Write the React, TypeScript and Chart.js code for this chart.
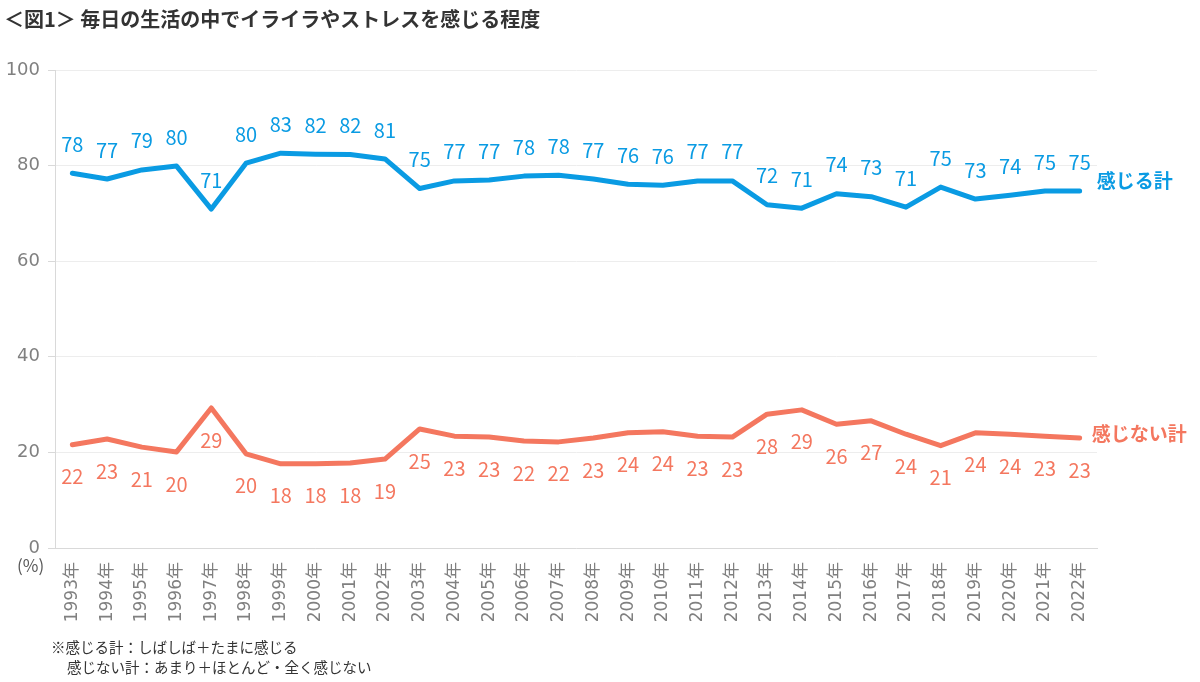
import React, { useEffect, useRef } from "react";
import { Chart, registerables } from "chart.js";

Chart.register(...registerables);

const years = [
  "1993年", "1994年", "1995年", "1996年", "1997年", "1998年", "1999年", "2000年", "2001年", "2002年",
  "2003年", "2004年", "2005年", "2006年", "2007年", "2008年", "2009年", "2010年", "2011年", "2012年",
  "2013年", "2014年", "2015年", "2016年", "2017年", "2018年", "2019年", "2020年", "2021年", "2022年",
];

const feelValues = [
  78.4, 77.2, 79.1, 79.9, 70.9, 80.5, 82.6, 82.4, 82.3, 81.4,
  75.2, 76.8, 77.0, 77.8, 78.0, 77.2, 76.1, 75.9, 76.8, 76.8,
  71.8, 71.1, 74.1, 73.5, 71.3, 75.5, 73.0, 73.8, 74.7, 74.7,
];
const feelLabels = [
  "78", "77", "79", "80", "71", "80", "83", "82", "82", "81",
  "75", "77", "77", "78", "78", "77", "76", "76", "77", "77",
  "72", "71", "74", "73", "71", "75", "73", "74", "75", "75",
];

const notFeelValues = [
  21.6, 22.8, 21.1, 20.1, 29.3, 19.7, 17.6, 17.6, 17.8, 18.6,
  24.9, 23.4, 23.2, 22.4, 22.2, 23.0, 24.1, 24.3, 23.4, 23.2,
  28.0, 28.9, 25.9, 26.6, 23.8, 21.4, 24.1, 23.8, 23.4, 23.0,
];
const notFeelLabels = [
  "22", "23", "21", "20", "29", "20", "18", "18", "18", "19",
  "25", "23", "23", "22", "22", "23", "24", "24", "23", "23",
  "28", "29", "26", "27", "24", "21", "24", "24", "23", "23",
];

const yTicks = [0, 20, 40, 60, 80, 100];

const seriesNames = ["感じる計", "感じない計"];
const titleText = "＜図1＞ 毎日の生活の中でイライラやストレスを感じる程度";
const noteLines = ["※感じる計：しばしば＋たまに感じる", "感じない計：あまり＋ほとんど・全く感じない"];
const unitText = "(%)";

const BLUE = "#0A9BE3";
const ORANGE = "#F4775F";
const JP = "'Noto Sans CJK JP', 'Noto Sans', sans-serif";
const NUM = "'DejaVu Sans', 'Noto Sans CJK JP', sans-serif";

const labelPlugin = {
  id: "customLabels",
  afterDatasetsDraw(chart: any) {
    const ctx = chart.ctx;
    const labelSets = [feelLabels, notFeelLabels];
    const offsets = [-29, 32];
    const colors = [BLUE, ORANGE];
    const nameOffsets = [
      { dx: 17, dy: -10 },
      { dx: 12, dy: -4 },
    ];
    chart.data.datasets.forEach((_ds: any, i: number) => {
      const meta = chart.getDatasetMeta(i);
      ctx.save();
      ctx.font = `20px ${JP}`;
      ctx.fillStyle = colors[i];
      ctx.textAlign = "center";
      ctx.textBaseline = "middle";
      meta.data.forEach((pt: any, j: number) => {
        ctx.fillText(labelSets[i][j], pt.x, pt.y + offsets[i]);
      });
      const last = meta.data[meta.data.length - 1];
      ctx.font = `bold 19px ${JP}`;
      ctx.textAlign = "left";
      ctx.fillText(seriesNames[i], last.x + nameOffsets[i].dx, last.y + nameOffsets[i].dy);
      ctx.restore();
    });
  },
  afterDraw(chart: any) {
    const ctx = chart.ctx;
    ctx.save();
    ctx.textBaseline = "middle";
    ctx.textAlign = "left";
    ctx.fillStyle = "#333333";
    ctx.font = `bold 20px ${JP}`;
    ctx.fillText(titleText, 4, 19);
    ctx.fillStyle = "#595959";
    ctx.font = `17px ${JP}`;
    ctx.fillText(unitText, 17, 566);
    ctx.fillStyle = "#333333";
    ctx.font = `14.5px ${JP}`;
    ctx.fillText(noteLines[0], 51, 647);
    ctx.fillText(noteLines[1], 67, 667);
    ctx.restore();
  },
};

export default function App() {
  const ref = useRef<HTMLCanvasElement | null>(null);
  useEffect(() => {
    if (!ref.current) return;
    const chart = new Chart(ref.current, {
      type: "line",
      data: {
        labels: years,
        datasets: [
          {
            label: seriesNames[0],
            data: feelValues,
            borderColor: BLUE,
            backgroundColor: BLUE,
            borderWidth: 5,
            pointRadius: 0,
            tension: 0,
            borderCapStyle: "round",
            borderJoinStyle: "round",
          },
          {
            label: seriesNames[1],
            data: notFeelValues,
            borderColor: ORANGE,
            backgroundColor: ORANGE,
            borderWidth: 5,
            pointRadius: 0,
            tension: 0,
            borderCapStyle: "round",
            borderJoinStyle: "round",
          },
        ],
      },
      options: {
        responsive: false,
        animation: false,
        devicePixelRatio: 1,
        layout: { padding: { left: 0, top: 70, right: 103, bottom: 0 } },
        plugins: {
          legend: { display: false },
          tooltip: { enabled: false },
          title: { display: false },
        },
        scales: {
          x: {
            offset: true,
            grid: { display: false },
            border: { display: true, color: "#D9D9D9", width: 1 },
            ticks: {
              autoSkip: false,
              minRotation: 90,
              maxRotation: 90,
              padding: 6,
              color: "#808080",
              font: { family: NUM, size: 17 },
            },
            afterFit(scale: any) {
              scale.height = 134;
            },
          },
          y: {
            min: 0,
            max: 100,
            afterBuildTicks(scale: any) {
              scale.ticks = yTicks.map((v) => ({ value: v }));
            },
            grid: {
              color: "#EDEDED",
              lineWidth: 1,
              drawTicks: true,
              tickLength: 7,
              tickColor: "#D9D9D9",
            },
            border: { display: true, color: "#D9D9D9", width: 1 },
            ticks: {
              padding: 8,
              color: "#808080",
              font: { family: NUM, size: 18 },
            },
            afterFit(scale: any) {
              scale.width = 55;
            },
          },
        },
      },
      plugins: [labelPlugin],
    } as any);
    return () => chart.destroy();
  }, []);
  return (
    <div style={{ position: "absolute", left: 0, top: 0, width: 1200, height: 682, background: "#fff" }}>
      <canvas ref={ref} width={1200} height={682} />
    </div>
  );
}
